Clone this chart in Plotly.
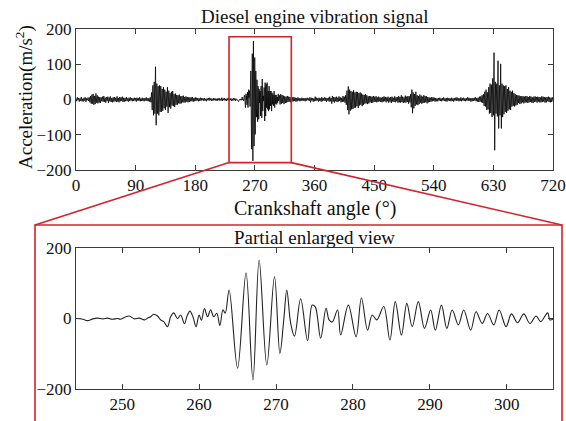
import numpy as np
import plotly.graph_objects as go

# ---------------- data ----------------
# Top signal, 1-degree samples, segment before the enlarged window (0..243 deg)
seg_a_start = 0
seg_a_vals = [
    3,-5,6,-2,4,-6,3,-4,7,-5,2,-6,5,-3,6,-7,3,-2,5,-4,
    6,-8,10,-12,14,-12,16,-15,10,-13,17,-9,12,-11,8,-9,7,-10,6,-5,
    8,-6,10,-7,5,-9,7,-4,8,-10,6,-5,9,-7,4,-8,6,-6,7,-5,
    5,-7,9,-6,4,-8,7,-5,6,-4,8,-7,5,-6,4,-5,7,-4,3,-6,
    5,-4,6,-3,4,-5,3,-4,5,-3,4,-6,5,-3,4,-4,6,-5,3,-4,
    5,-4,3,-5,4,-3,6,-4,3,-5,4,-6,6,-8,
    20,-30,40,-45,50,-40,93,-73,45,-40,38,-45,40,-35,38,-35,30,-32,35,-25,
    28,-30,22,-20,35,-38,25,-22,18,-26,22,-17,24,-19,15,-21,17,-15,13,-15,
    12,-11,14,-12,9,-11,10,-8,11,-9,7,-8,9,-6,7,-8,6,-7,6,-5,
    6,-5,7,-6,4,-5,6,-4,5,-3,4,-5,3,-4,5,-3,4,-2,3,-4,
    4,-3,2,-5,3,-2,4,-3,5,-2,3,-4,2,-3,4,-2,3,-3,2,-4,
    3,-2,4,-3,2,-3,5,-4,3,-2,4,-3,2,-4,3,-2,5,-3,4,-2,
    3,-4,2,-3,4,-2,3,-4,2,0,
]

# Enlarged window (244..306 deg)
zoom_angle = [
    244.0,244.9,245.5,246.2,246.8,247.5,248.1,248.7,249.4,249.8,
    250.5,250.9,251.6,252.2,252.9,253.3,253.7,254.1,254.6,255.0,
    255.4,255.9,256.3,256.7,257.2,257.6,258.1,258.4,258.8,259.2,
    259.6,260.0,260.3,260.7,261.1,261.5,261.9,262.3,262.7,263.1,
    263.4,263.9,265.0,266.1,267.0,267.8,268.8,269.8,270.5,271.0,
    271.4,271.9,272.4,273.2,274.1,274.7,275.1,275.8,276.5,276.9,
    277.3,278.0,278.4,279.4,280.4,281.1,281.9,282.5,283.1,284.0,
    284.8,285.5,286.3,287.0,287.7,288.5,289.3,290.1,290.7,291.5,
    292.2,292.9,293.7,294.4,295.3,296.0,296.8,297.5,298.3,299.0,
    299.9,300.6,301.4,302.2,303.0,303.8,304.4,305.3,305.6,306.0,
]
zoom_accel = [
    0,-2,-6,-1,1,-1,1,-2,0,-2,
    5,7,-1,1,-4,1,5,12,7,-4,
    -9,-23,5,16,0,10,-15,5,21,5,
    -23,10,-5,28,5,25,5,15,-20,25,
    15,81,-141,130,-174,166,-132,119,-99,-5,
    81,-13,-50,56,-63,38,33,-56,29,-4,
    -10,24,-47,38,-52,58,-33,10,-4,34,
    -61,48,-47,43,-23,48,-28,24,-33,38,
    -28,24,-18,24,-33,19,-14,14,-18,24,
    -23,13,-12,13,-14,7,-9,16,-4,-2,
]

# Top signal after the enlarged window (307..720 deg)
seg_c_start = 307
seg_c_vals = [
    12,-14,15,-12,13,-10,11,-13,9,-10,8,-9,10,-7,8,-6,7,-8,5,-6,
    6,-5,7,-4,5,-6,4,-5,6,-3,4,-5,3,-4,5,-3,4,-4,3,-5,
    4,-3,5,-2,3,-4,6,-8,5,-3,4,-6,3,-5,8,-4,5,-3,4,-6,
    5,-4,3,-6,7,-5,4,-3,6,-4,5,-7,4,-3,5,-6,8,-5,4,-12,
    10,-6,7,-9,6,-5,8,-7,5,-6,9,-4,6,-8,5,-7,10,-6,8,-9,
    12,-15,25,-30,37,-42,28,-32,24,-28,22,-27,26,-24,20,-23,22,-19,21,-24,
    18,-17,20,-15,17,-19,14,-15,13,-12,15,-11,12,-13,9,-11,10,-8,9,-10,
    8,-9,10,-7,8,-6,9,-8,6,-7,8,-5,6,-7,5,-8,7,-6,9,-5,
    7,-8,6,-5,8,-9,5,-6,7,-10,8,-6,5,-7,9,-8,6,-5,7,-9,
    10,-8,7,-9,12,-7,8,-10,6,-8,11,-9,8,-7,10,-12,9,-8,15,-22,
    28,-39,20,-25,15,-18,22,-14,12,-16,10,-13,14,-9,11,-12,8,-10,12,-9,
    10,-8,9,-11,7,-8,6,-7,5,-6,7,-5,6,-4,5,-6,4,-5,3,-5,
    4,-3,5,-4,3,-5,4,-3,6,-4,3,-5,4,-6,5,-3,4,-4,3,-5,
    5,-4,3,-6,4,-3,5,-4,6,-3,4,-5,3,-4,6,-5,4,-3,5,-4,
    3,-5,4,-3,6,-4,5,-3,4,-6,3,-5,4,-4,5,-3,6,-5,4,-6,
    5,-7,8,-6,9,-8,12,-10,15,-18,22,-20,28,-30,
    20,-28,35,-40,45,-38,42,-50,60,-45,133,-144,50,-40,45,-48,110,-82,40,-45,
    101,-82,45,-50,40,-42,38,-35,40,-38,30,-32,35,-28,25,-30,22,-20,25,-18,
    18,-20,15,-17,13,-15,12,-10,11,-13,9,-11,10,-8,9,-11,8,-9,10,-8,
    9,-10,7,-8,10,-7,8,-9,6,-10,8,-7,9,-6,7,-9,8,-6,7,-8,
    6,-8,9,-7,8,-6,7,-9,6,-8,7,-5,8,-7,6,-8,5,-7,6,-4,
]

top_xticks = [0, 90, 180, 270, 360, 450, 540, 630, 720]
top_yticks = [-200, -100, 0, 100, 200]
bot_xticks = [250, 260, 270, 280, 290, 300]
bot_yticks = [-200, 0, 200]
top_xrange = [0, 720]
bot_xrange = [244, 306]
yrange = [-200, 200]
zoom_box_x = [231, 325]
zoom_box_y = [-179, 178]

# ---------------- assemble top series ----------------
top_x = list(seg_a_start + np.arange(len(seg_a_vals))) + zoom_angle + \
        list(seg_c_start + np.arange(len(seg_c_vals)))
top_y = seg_a_vals + zoom_accel + seg_c_vals

W, H = 566, 421
FONT = "Liberation Serif, Times New Roman, serif"
RED = "#d3232c"
AX = "#3a3a3a"

# domains (figure fractions)
xd = [76 / W, 553 / W]
top_yd = [1 - 170 / H, 1 - 29 / H]
bot_yd = [1 - 389 / H, 1 - 248 / H]

fig = go.Figure()
fig.add_trace(go.Scatter(x=top_x, y=top_y, mode="lines",
                         line=dict(color="black", width=0.8),
                         xaxis="x", yaxis="y", showlegend=False))
fig.add_trace(go.Scatter(x=zoom_angle, y=zoom_accel, mode="lines",
                         line=dict(color="#222222", width=1.1, shape="spline", smoothing=1.0),
                         xaxis="x2", yaxis="y2", showlegend=False))

axis_common = dict(showgrid=False, zeroline=False, showline=True, linecolor=AX,
                   linewidth=1, mirror="ticks", ticks="inside", ticklen=5,
                   tickcolor=AX, tickfont=dict(family=FONT, size=17, color="#111"),
                   automargin=False)

fig.update_layout(
    width=W, height=H,
    margin=dict(l=0, r=0, t=0, b=0),
    paper_bgcolor="white", plot_bgcolor="white",
    font=dict(family=FONT, color="#111"),
    xaxis=dict(domain=xd, range=top_xrange, tickvals=top_xticks, anchor="y", **axis_common),
    yaxis=dict(domain=top_yd, range=yrange, tickvals=top_yticks, anchor="x", **axis_common),
    xaxis2=dict(domain=xd, range=bot_xrange, tickvals=bot_xticks, anchor="y2", **axis_common),
    yaxis2=dict(domain=bot_yd, range=yrange, tickvals=bot_yticks, anchor="x2", **axis_common),
)


def top_px(deg):
    return xd[0] + (deg - top_xrange[0]) / (top_xrange[1] - top_xrange[0]) * (xd[1] - xd[0])


def top_py(val):
    return top_yd[0] + (val - yrange[0]) / (yrange[1] - yrange[0]) * (top_yd[1] - top_yd[0])


frame_x = [35 / W, 562 / W]
frame_top = 1 - 225 / H

shapes = [
    dict(type="rect", xref="x", yref="y", x0=zoom_box_x[0], x1=zoom_box_x[1],
         y0=zoom_box_y[0], y1=zoom_box_y[1], line=dict(color=RED, width=1.6)),
    dict(type="rect", xref="paper", yref="paper", x0=frame_x[0], x1=frame_x[1],
         y0=-0.05, y1=frame_top, line=dict(color=RED, width=1.6), layer="below"),
    dict(type="line", xref="paper", yref="paper", x0=top_px(zoom_box_x[0]), y0=top_py(zoom_box_y[0]),
         x1=frame_x[0], y1=frame_top, line=dict(color=RED, width=1.6)),
    dict(type="line", xref="paper", yref="paper", x0=top_px(zoom_box_x[1]), y0=top_py(zoom_box_y[0]),
         x1=frame_x[1], y1=frame_top, line=dict(color=RED, width=1.6)),
]
fig.update_layout(shapes=shapes)

xc = (xd[0] + xd[1]) / 2
ann = [
    dict(text="Diesel engine vibration signal", x=xc, y=1 - 16 / H, xref="paper", yref="paper",
         showarrow=False, font=dict(family=FONT, size=19, color="#111"), xanchor="center", yanchor="middle"),
    dict(text="Crankshaft angle (°)", x=xc, y=1 - 208 / H, xref="paper", yref="paper",
         showarrow=False, font=dict(family=FONT, size=20, color="#111"), xanchor="center", yanchor="middle"),
    dict(text="Acceleration(m/s<sup>2</sup>)", x=24 / W, y=1 - 97 / H, xref="paper", yref="paper",
         showarrow=False, textangle=-90, font=dict(family=FONT, size=19, color="#111"),
         xanchor="center", yanchor="middle"),
    dict(text="Partial enlarged view", x=xc, y=1 - 237 / H, xref="paper", yref="paper",
         showarrow=False, font=dict(family=FONT, size=19, color="#111"), xanchor="center", yanchor="middle"),
]
fig.update_layout(annotations=ann)

fig.write_html("out.html")
